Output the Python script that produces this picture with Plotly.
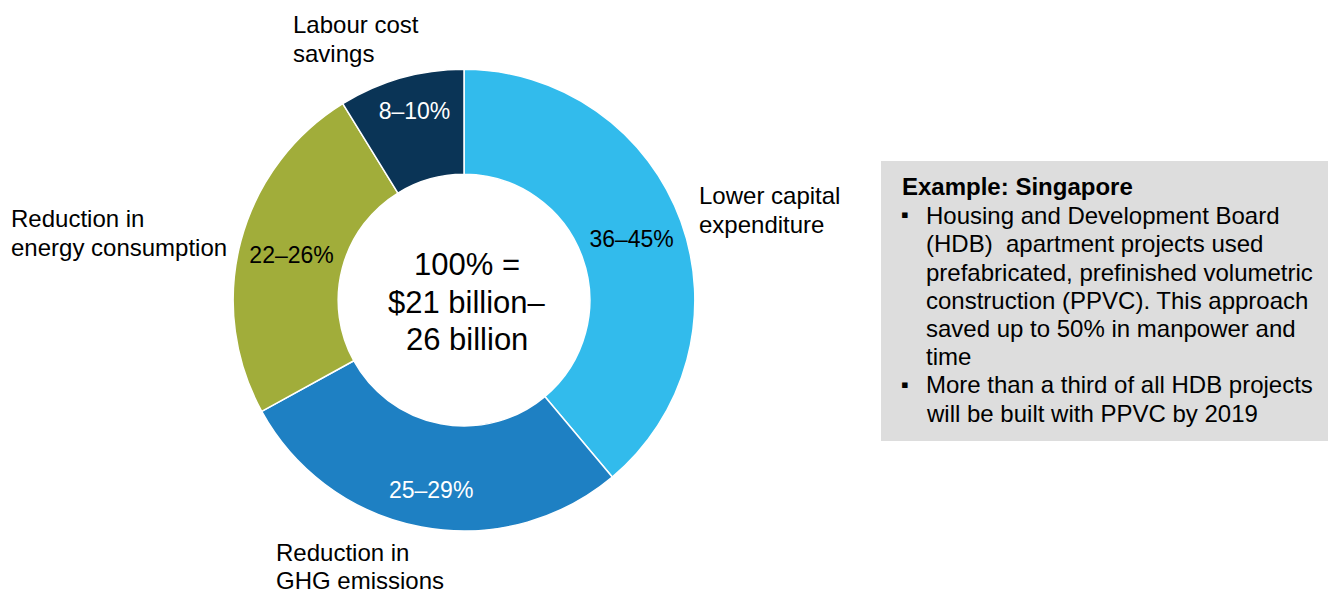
import plotly.graph_objects as go

W, H = 1336, 593
OFF = 8  # page body margin of the browser

# ---- data ----
categories = ["Lower capital expenditure", "Reduction in GHG emissions",
              "Reduction in energy consumption", "Labour cost savings"]
shares = [38.9, 28.1, 24.2, 8.8]          # slice sizes
range_labels = ["36–45%", "25–29%", "22–26%", "8–10%"]
outer_labels = [["Lower capital", "expenditure"], ["Reduction in", "GHG emissions"],
                ["Reduction in", "energy consumption"], ["Labour cost", "savings"]]
center_lines = ["100% =", "$21 billion–", "26 billion"]
box_title = "Example: Singapore"
box_bullets = [
    ["Housing and Development Board",
     "(HDB)  apartment projects used",
     "prefabricated, prefinished volumetric",
     "construction (PPVC). This approach",
     "saved up to 50% in manpower and",
     "time"],
    ["More than a third of all HDB projects",
     "will be built with PPVC by 2019"],
]

colors = ["#32BBEC", "#1E80C3", "#A1AD3A", "#0A3456"]
text_colors = ["black", "white", "black", "white"]
FONT = "Liberation Sans, Arial, sans-serif"
NB = "\u00a0"
# padding lines nudge the in-slice labels outward like the reference
pad_before = ["", NB + "<br>", "", ""]
pad_after = ["", "", "", "<br>" + NB]
slice_text = [b + t + a for b, t, a in zip(pad_before, range_labels, pad_after)]


def fx(x):
    return (x - OFF) / W


def fy(y):
    return 1 - (y - OFF) / H


fig = go.Figure()
fig.add_trace(go.Pie(
    labels=categories,
    values=shares,
    text=slice_text,
    textinfo="text",
    textposition="inside",
    insidetextorientation="horizontal",
    textfont=dict(family=FONT, size=23, color=text_colors),
    marker=dict(colors=colors, line=dict(color="white", width=1.5)),
    hole=0.545,
    sort=False,
    direction="clockwise",
    rotation=0,
    domain=dict(x=[fx(464 - 231), fx(464 + 231)], y=[fy(531), fy(69.3)]),
    showlegend=False,
    hoverinfo="label+text",
))

annotations = []
# centre text
for line, y in zip(center_lines, [264, 302, 340]):
    annotations.append(dict(x=fx(467), y=fy(y), text=line, showarrow=False,
                            xanchor="center", yanchor="middle",
                            font=dict(family=FONT, size=31, color="black")))
# outer category labels (left x, centre y of first line)
outer_pos = [(697, 195.5), (274, 552), (9, 219), (291, 24.7)]
for lines, (x, y) in zip(outer_labels, outer_pos):
    for i, line in enumerate(lines):
        annotations.append(dict(x=fx(x), y=fy(y + i * 28.5), text=line, showarrow=False,
                                xanchor="left", yanchor="middle",
                                font=dict(family=FONT, size=24, color="black")))

# box text
annotations.append(dict(x=fx(900), y=fy(186.5), text="<b>" + box_title + "</b>",
                        showarrow=False, xanchor="left", yanchor="middle",
                        font=dict(family=FONT, size=24, color="black")))
line_y = 215.5
step = 28.25
for block in box_bullets:
    annotations.append(dict(x=fx(899), y=fy(line_y - 1), text="▪", showarrow=False,
                            xanchor="left", yanchor="middle",
                            font=dict(family=FONT, size=22, color="black")))
    for line in block:
        annotations.append(dict(x=fx(924), y=fy(line_y), text=line, showarrow=False,
                                xanchor="left", yanchor="middle",
                                font=dict(family=FONT, size=24, color="black")))
        line_y += step

fig.update_layout(
    width=W, height=H,
    margin=dict(l=0, r=0, t=0, b=0),
    paper_bgcolor="white",
    plot_bgcolor="white",
    annotations=annotations,
    shapes=[dict(type="rect", xref="paper", yref="paper",
                 x0=fx(881), x1=fx(1331), y0=fy(441), y1=fy(161),
                 fillcolor="#DDDDDD", line=dict(width=0), layer="below")],
    font=dict(family=FONT),
)

fig.write_html("out.html")
